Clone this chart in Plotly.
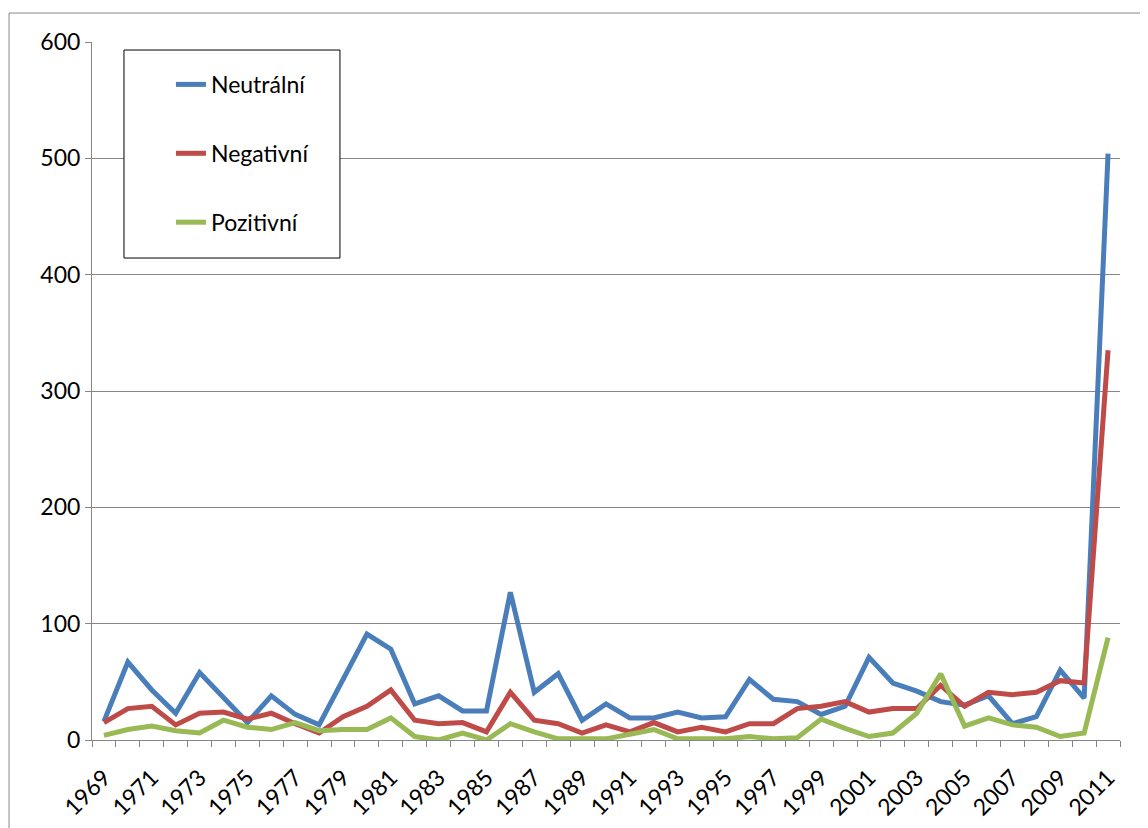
import plotly.graph_objects as go

years = list(range(1969, 2012))

neutralni = [16, 67, 43, 23, 58, 36, 15, 38, 22, 13, 53, 91, 78, 31, 38,
             25, 25, 127, 41, 57, 17, 31, 19, 19, 24, 19, 20, 52, 35,
             33, 22, 29, 71, 49, 42, 33, 30, 38, 14, 20, 60, 36, 504]
negativni = [15, 27, 29, 13, 23, 24, 18, 23, 14, 6, 20, 29, 43, 17, 14,
             15, 7, 41, 17, 14, 6, 13, 7, 15, 7, 11, 7, 14, 14,
             27, 29, 33, 24, 27, 27, 47, 29, 41, 39, 41, 51, 49, 335]
pozitivni = [4, 9, 12, 8, 6, 17, 11, 9, 15, 8, 9, 9, 19, 3, 0,
             6, 0, 14, 7, 1, 1, 1, 5, 9, 1, 1, 1, 3, 1,
             2, 18, 10, 3, 6, 23, 57, 12, 19, 13, 11, 3, 6, 88]

series_names = ["Neutrální", "Negativní", "Pozitivní"]
series_colors = ["#4A7EBB", "#BE4B48", "#98B954"]
tick_labels = [str(y) for y in years[::2]]

FONT = "Lato, 'Open Sans', sans-serif"
FS = 23

fig = go.Figure()
for i, (name, vals, col) in enumerate(zip(series_names, [neutralni, negativni, pozitivni], series_colors)):
    fig.add_trace(go.Scatter(
        x=years, y=vals, name=name, mode="lines",
        line=dict(color=col, width=5), legendgroup=f"g{i}",
    ))

fig.update_layout(
    width=1148, height=828,
    margin=dict(l=84, r=36, t=34, b=96),
    paper_bgcolor="white", plot_bgcolor="white",
    font=dict(family=FONT, size=FS, color="black"),
    showlegend=True,
    legend=dict(
        x=0.0768, y=0.970, xanchor="left", yanchor="top",
        borderwidth=0, bgcolor="rgba(0,0,0,0)",
        tracegroupgap=36, font=dict(size=FS),
    ),
    shapes=[
        # outer chart frame
        dict(type="rect", xref="paper", yref="paper",
             x0=-0.0807, x1=1.2, y0=-0.3, y1=1.0415,
             line=dict(color="#888888", width=1), layer="below"),
        # legend frame
        dict(type="rect", xref="paper", yref="paper",
             x0=0.0311, x1=0.2412, y0=0.6905, y1=0.9885,
             line=dict(color="black", width=1), fillcolor="white", layer="above"),
    ],
)

fig.update_xaxes(
    range=[1968.5, 2011.5],
    tickmode="array", tickvals=years[::2], ticktext=tick_labels,
    tickangle=-45, ticks="", showgrid=False,
    showline=True, linecolor="#868686", linewidth=1,
    minor=dict(ticks="outside", ticklen=6, tick0=1968.5, dtick=1,
               tickcolor="#868686", showgrid=False),
    tickfont=dict(size=FS), zeroline=False,
    ticklabelstandoff=14,
)
fig.update_yaxes(
    range=[0, 600], dtick=100, tick0=0,
    showgrid=True, gridcolor="#868686", gridwidth=1,
    showline=True, linecolor="#868686", linewidth=1,
    ticks="outside", ticklen=6, tickcolor="#868686",
    tickfont=dict(size=FS), zeroline=False,
)

fig.write_html("out.html")
